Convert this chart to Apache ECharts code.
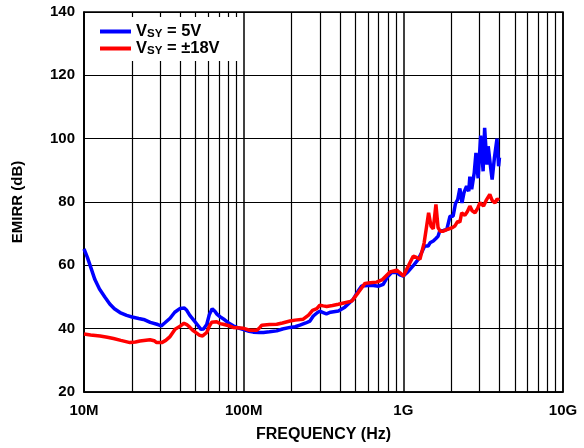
<!DOCTYPE html>
<html>
<head>
<meta charset="utf-8">
<script src="https://cdn.jsdelivr.net/npm/echarts@6/dist/echarts.min.js"></script>
<style>html,body{margin:0;padding:0;background:#fff}#c{width:584px;height:448px}</style>
</head>
<body>
<div id="c"></div>
<script>
// ---- data ----
const seriesNames = ['VSY = 5V', 'VSY = ±18V'];
const xTickValues = [1e7, 1e8, 1e9, 1e10];
const xTickLabels = ['10M', '100M', '1G', '10G'];
const minorGridMHz = [20,30,40,50,60,70,80,90,200,300,400,500,600,700,800,900,2000,3000,4000,5000,6000,7000,8000,9000];

const blueMHz = [10,10.5,11,11.7,12.5,13.5,14.5,15.5,16.8,18.5,20,22,24,26,29,30.5,32,34.6,37,40,42.5,44,46,48.5,51,54,56,58.7,61,63.5,66,68,71,73,76,80,86,93,100,108,115,125,133,145,161,175,195,210,225,245,260,273,290,300,315,330,350,392,430,486,520,548,600,650,700,748,800,845,908,950,1000,1070,1150,1240,1300,1360,1430,1470,1540,1600,1650,1690,1780,1870,1960,2050,2120,2190,2260,2330,2400,2490,2570,2610,2680,2780,2850,2940,3050,3160,3230,3340,3400,3520,3600,3720,3860,3950,4000];
const blueDB  = [65.2,62.5,59.5,55.5,52.5,50,47.8,46.3,45.1,44.2,43.7,43.2,42.8,42.0,41.3,40.9,41.8,43.3,45.2,46.4,46.5,45.8,44.2,42.8,41.4,39.8,39.9,41.3,44.5,46.3,45.5,44.6,43.8,44.0,42.8,41.9,40.9,40.2,39.7,39.2,38.9,38.8,38.8,39.0,39.3,39.9,40.4,40.6,41.1,41.8,42.4,44.0,45.1,45.5,45.1,44.7,45.2,45.6,46.8,49.3,51.8,53.5,53.6,53.6,53.4,54.0,56.5,57.7,57.8,57.0,56.6,58.0,59.8,61.9,64.0,66.1,66.1,67.1,67.7,68.5,69.2,70.8,71.0,71.3,75.5,75.5,79.5,80.8,84.3,79.7,83.0,85.0,83.4,88.0,84.0,89.2,95.5,87.5,101,89.7,103.4,91.8,97.6,91.0,87.1,94.0,100,91.3,94.0];

const redMHz = [10,11,12.6,14,15.3,17,19.4,21,22.4,25.9,27.5,28.5,30.7,32.5,34.6,37.2,40,42.3,44,46.1,48.5,50.8,53,55.3,58.7,61,63,67.7,71,74.5,80,86,100,109,121,126,130,145,161,175,195,210,236,255,270,287,300,315,331,360,392,430,475,522,575,620,680,740,825,908,960,1000,1080,1153,1210,1270,1350,1400,1440,1490,1540,1600,1650,1700,1780,1900,2030,2100,2190,2260,2320,2430,2520,2610,2700,2810,2920,3020,3090,3180,3300,3480,3600,3750,3870,3980];
const redDB  = [38.3,38.0,37.7,37.3,36.9,36.3,35.6,35.8,36.1,36.5,36.2,35.6,35.6,36.3,37.5,39.8,40.8,41.7,41.3,40.4,39.3,38.6,37.9,37.7,38.8,40.8,42.0,42.2,41.6,41.4,41.0,40.4,40.1,39.5,39.5,40.3,41.1,41.3,41.4,41.8,42.4,42.7,43.0,44.3,45.8,46.3,47.4,47.2,47.0,47.3,47.7,48.2,48.7,51.4,54.3,54.5,54.7,55.5,57.9,58.5,57.5,56.6,60.0,62.9,62.5,61.9,67.1,72.4,76.6,72.4,71.5,79.2,71.9,70.8,70.8,71.4,71.9,72.4,73.9,73.6,76.6,75.8,77.0,78.7,77.2,76.6,78.0,79.8,79.7,78.7,80.5,82.4,80.5,79.7,81.0,80.5];

const colors = ['#0000ff', '#ff0000'];
const FONT = '"Liberation Sans", Arial, sans-serif';

function pairs(mhz, db) { return mhz.map((f, i) => [f * 1e6, db[i]]); }

const chart = echarts.init(document.getElementById('c'), null, {renderer: 'canvas'});
chart.setOption({
  animation: false,
  backgroundColor: '#fff',
  grid: {left: 84, right: 21, top: 12, bottom: 55, show: true, borderColor: '#000', borderWidth: 1.5, backgroundColor: 'transparent'},
  legend: {
    data: seriesNames,
    orient: 'vertical',
    z: 20,
    left: 85, top: 17,
    padding: [6, 21, 4, 15],
    itemGap: 0,
    itemWidth: 31, itemHeight: 4,
    icon: 'rect',
    backgroundColor: '#fff',
    formatter: n => '{v|V}{s|SY}{v|' + n.slice(3) + '}',
    textStyle: {
      rich: {
        v: {fontFamily: FONT, fontWeight: 'bold', fontSize: 16.5, color: '#000', lineHeight: 17},
        s: {fontFamily: FONT, fontWeight: 'bold', fontSize: 11.5, color: '#000', lineHeight: 8, verticalAlign: 'bottom'}
      }
    }
  },
  xAxis: {
    type: 'log', logBase: 10, min: 1e7, max: 1e10,
    name: 'FREQUENCY (Hz)', nameLocation: 'middle', nameGap: 35,
    nameTextStyle: {fontFamily: FONT, fontWeight: 'bold', fontSize: 16, color: '#000'},
    axisLine: {lineStyle: {color: '#000', width: 1.5}},
    axisTick: {show: false},
    axisLabel: {
      fontFamily: FONT, fontWeight: 'bold', fontSize: 15, color: '#000', margin: 11,
      formatter: v => { const i = xTickValues.findIndex(t => Math.abs(t - v) / t < 1e-6); return i >= 0 ? xTickLabels[i] : ''; }
    },
    splitLine: {show: true, lineStyle: {color: '#000', width: 1.5}}
  },
  yAxis: {
    type: 'value', min: 20, max: 140, interval: 20,
    name: 'EMIRR (dB)', nameLocation: 'middle', nameGap: 59,
    nameTextStyle: {fontFamily: FONT, fontWeight: 'bold', fontSize: 15, color: '#000'},
    axisLine: {show: true, lineStyle: {color: '#000', width: 1.5}},
    axisTick: {show: false},
    axisLabel: {fontFamily: FONT, fontWeight: 'bold', fontSize: 15, color: '#000', margin: 9},
    splitLine: {show: true, lineStyle: {color: '#000', width: 1.2}}
  },
  series: [
    {
      name: '_grid', type: 'line', data: [], z: 1, silent: true,
      markLine: {
        z: 1,
        silent: true, symbol: 'none', animation: false,
        label: {show: false},
        lineStyle: {color: '#000', width: 1.2, type: 'solid'},
        data: minorGridMHz.map(f => ({xAxis: f * 1e6}))
      }
    },
    {
      name: seriesNames[0], type: 'line', data: pairs(blueMHz, blueDB), showSymbol: false, z: 3,
      color: colors[0], lineStyle: {color: colors[0], width: 3.5}
    },
    {
      name: seriesNames[1], type: 'line', data: pairs(redMHz, redDB), showSymbol: false, z: 3,
      color: colors[1], lineStyle: {color: colors[1], width: 3.5}
    }
  ]
});
</script>
</body>
</html>
